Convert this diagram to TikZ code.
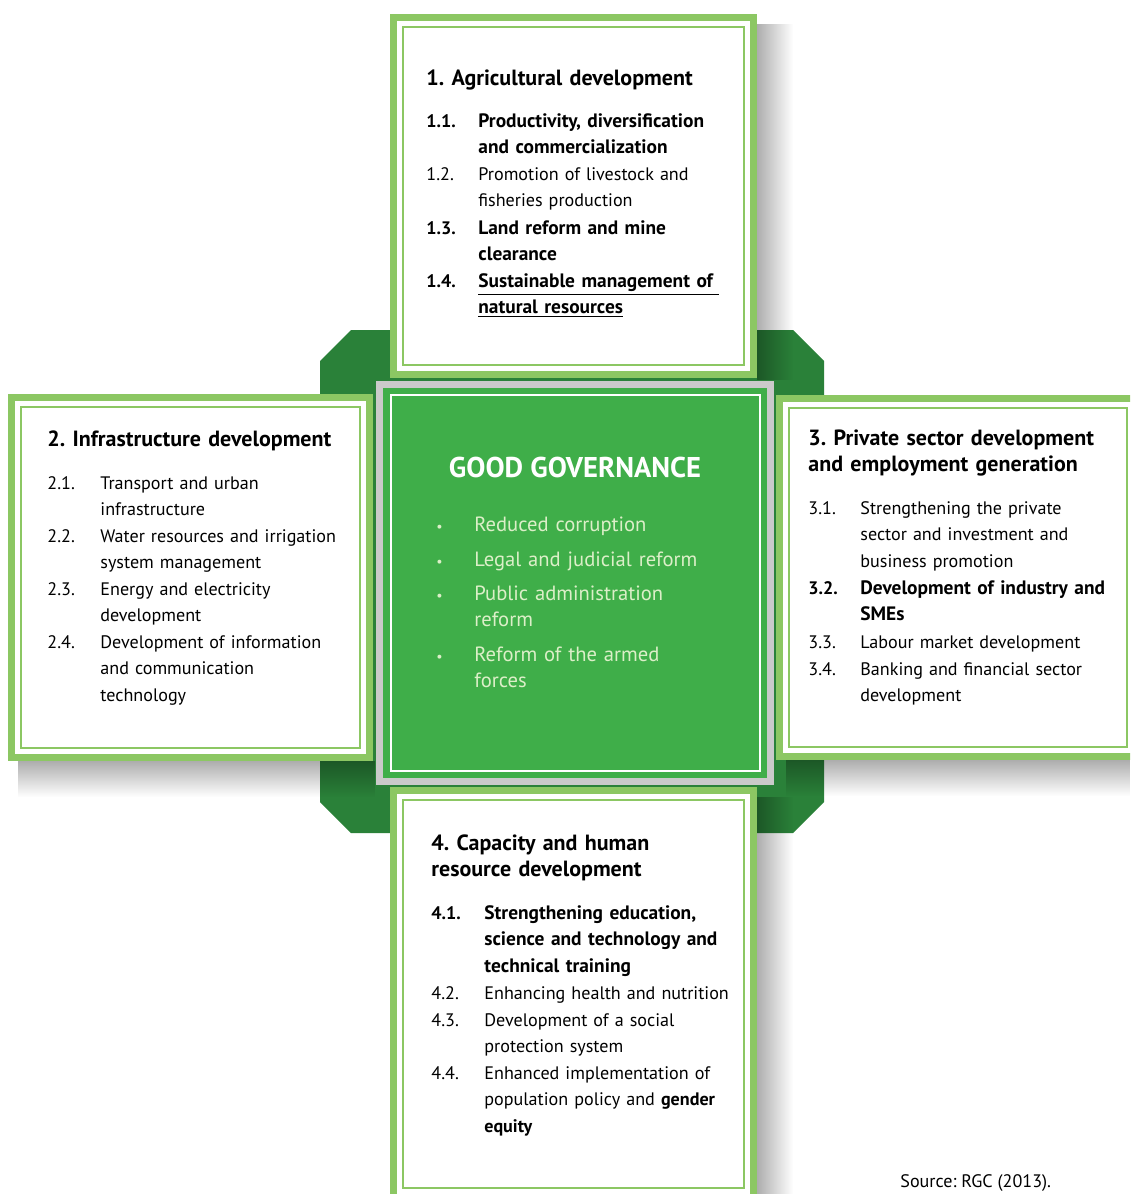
\documentclass[tikz,border=0pt]{standalone}
\usepackage{fontspec}
\setmainfont{PT Sans}
\usetikzlibrary{fadings}
\frenchspacing

\definecolor{framegreen}{HTML}{8CC763}
\definecolor{darkgreen}{HTML}{2A8139}
\definecolor{govgreen}{HTML}{3FAE49}
\definecolor{govtext}{HTML}{DCEFC8}
\definecolor{silver}{HTML}{CACACA}

\tikzfading[name=fade right, left color=transparent!0, right color=transparent!100]
\tikzfading[name=fade down, top color=transparent!0, bottom color=transparent!100]

\tikzset{
  outerframe/.style={draw=framegreen, line width=3.5pt, fill=white},
  innerframe/.style={draw=framegreen, line width=1.2pt},
  shadowright/.style={fill=black, fill opacity=0.32, path fading=fade right},
  shadowdown/.style={fill=black, fill opacity=0.32, path fading=fade down},
  heading/.style={anchor=base west, inner sep=0pt, align=left, text width=170pt,
      font=\fontsize{11}{13.35}\selectfont\bfseries},
  itemno/.style={anchor=base west, inner sep=0pt,
      font=\fontsize{9.05}{13.35}\selectfont},
  itemtext/.style={anchor=base west, inner sep=0pt, align=left, text width=150pt,
      font=\fontsize{9.05}{13.35}\selectfont},
  boldno/.style={font=\fontsize{9.05}{13.35}\selectfont\bfseries},
  bolditem/.style={font=\fontsize{9.7}{13.35}\selectfont\bfseries},
  govitem/.style={anchor=base west, inner sep=0pt, align=left, text width=140pt,
      text=govtext, font=\fontsize{10.3}{13}\selectfont},
  govbullet/.style={anchor=base west, inner sep=0pt, text=govtext,
      font=\fontsize{7}{13}\selectfont}
}

%% goal box: thick band, white gap, thin line (outer edges given)
\newcommand{\goalbox}[4]{%
  \draw[outerframe] ({#1+3.5},{#2+3.5}) rectangle ({#3-3.5},{#4-3.5});
  \draw[innerframe] ({#1+13},{#2+13}) rectangle ({#3-13},{#4-13});
}

\begin{document}
\begin{tikzpicture}[x=0.5pt,y=-0.5pt]
    \clip (0,0) rectangle (1130,1194);
    \fill[white] (0,0) rectangle (1130,1194);
    %% Cross behind the boxes
    \fill[darkgreen] (320,361) -- (351,330) -- (793,330) -- (824,361) -- (824,802)
        -- (793,833) -- (351,833) -- (320,802) -- cycle;
    %% Shadows
    \fill[shadowright] (757,24) rectangle (793,380);
    \fill[shadowdown] (18,761) rectangle (375,797);
    \fill[shadowdown] (786,760) rectangle (1130,796);
    \fill[shadowright] (757,797) rectangle (793,1194);
    %% Goal boxes
    \goalbox{390}{14}{757}{378}
    \goalbox{8}{394}{373}{761}
    \goalbox{776}{395}{1140}{760}
    \goalbox{390}{787}{757}{1201}
    %% Governance box
    \fill[silver] (376,381) rectangle (774,785);
    \fill[govgreen] (383,388) rectangle (767,778);
    \draw[white, line width=1pt] (391,395) rectangle (760,771);

    %% 1. Agriculture
    \node[heading] (t1) at (426,85) {1. Agricultural development};
    \node[itemno,boldno] (n11) at (426,127) {1.1.};
    \node[itemtext,bolditem] (i11) at (478,127) {Productivity, diversification\\and commercialization};
    \node[itemno] (n12) at (426,180) {1.2.};
    \node[itemtext] (i12) at (478,180) {Promotion of livestock and\\fisheries production};
    \node[itemno,boldno] (n13) at (426,234) {1.3.};
    \node[itemtext,bolditem] (i13) at (478,234) {Land reform and mine\\clearance};
    \node[itemno,boldno] (n14) at (426,287) {1.4.};
    \node[itemtext,bolditem] (i14) at (478,287) {\underline{Sustainable management of }\\\underline{natural resources}};

    %% 2. Infrastructure
    \node[heading] (t2) at (47,446) {2. Infrastructure development};
    \node[itemno] (n21) at (47,489) {2.1.};
    \node[itemtext] (i21) at (100,489) {Transport and urban\\infrastructure};
    \node[itemno] (n22) at (47,542) {2.2.};
    \node[itemtext] (i22) at (100,542) {Water resources and irrigation\\system management};
    \node[itemno] (n23) at (47,595) {2.3.};
    \node[itemtext] (i23) at (100,595) {Energy and electricity\\development};
    \node[itemno] (n24) at (47,648) {2.4.};
    \node[itemtext] (i24) at (100,648) {Development of information\\and communication\\technology};

    %% 3. Private sector
    \node[heading] (t3) at (808,445) {3. Private sector development\\and employment generation};
    \node[itemno] (n31) at (808,514) {3.1.};
    \node[itemtext] (i31) at (860,514) {Strengthening the private\\sector and investment and\\business promotion};
    \node[itemno,boldno] (n32) at (808,594) {3.2.};
    \node[itemtext,bolditem] (i32) at (860,594) {Development of industry and\\SMEs};
    \node[itemno] (n33) at (808,648) {3.3.};
    \node[itemtext] (i33) at (860,648) {Labour market development};
    \node[itemno] (n34) at (808,675) {3.4.};
    \node[itemtext] (i34) at (860,675) {Banking and financial sector\\development};

    %% 4. Capacity
    \node[heading] (t4) at (431,850) {4. Capacity and human\\resource development};
    \node[itemno,boldno] (n41) at (431,919) {4.1.};
    \node[itemtext,bolditem] (i41) at (484,919) {Strengthening education,\\science and technology and\\technical training};
    \node[itemno] (n42) at (431,999) {4.2.};
    \node[itemtext] (i42) at (484,999) {Enhancing health and nutrition};
    \node[itemno] (n43) at (431,1026) {4.3.};
    \node[itemtext] (i43) at (484,1026) {Development of a social\\protection system};
    \node[itemno] (n44) at (431,1079) {4.4.};
    \node[itemtext] (i44) at (484,1079) {Enhanced implementation of\\population policy and \textbf{gender}\\\textbf{equity}};

    %% Good governance
    \node[anchor=base, inner sep=0pt, text=white, font=\fontsize{14.3}{16}\selectfont\bfseries]
        (gov) at (575,477) {GOOD GOVERNANCE};
    \node[govbullet] (b1) at (436,531) {\textbullet};
    \node[govitem] (g1) at (474,531) {Reduced corruption};
    \node[govbullet] (b2) at (436,566) {\textbullet};
    \node[govitem] (g2) at (474,566) {Legal and judicial reform};
    \node[govbullet] (b3) at (436,600) {\textbullet};
    \node[govitem] (g3) at (474,600) {Public administration\\reform};
    \node[govbullet] (b4) at (436,661) {\textbullet};
    \node[govitem] (g4) at (474,661) {Reform of the armed\\forces};

    %% Source
    \node[itemno] (src) at (900,1187) {Source: RGC (2013).};
\end{tikzpicture}
\end{document}
